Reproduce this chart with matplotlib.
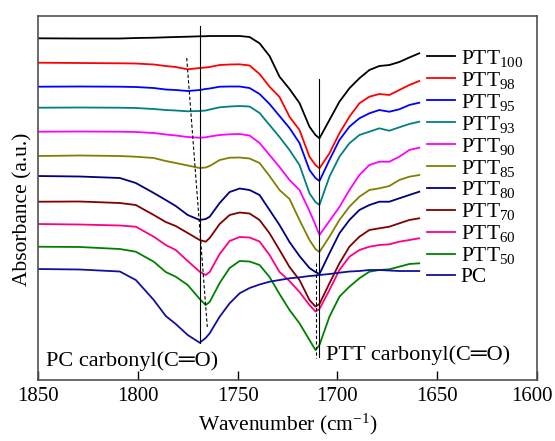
import matplotlib
matplotlib.use('Agg')
import matplotlib.pyplot as plt
import matplotlib.transforms as mtransforms

plt.rcParams['font.family'] = ['Liberation Serif', 'DejaVu Sans']
plt.rcParams['mathtext.fontset'] = 'custom'
plt.rcParams['mathtext.rm'] = 'Liberation Serif'
plt.rcParams['mathtext.it'] = 'Liberation Serif:italic'
plt.rcParams['mathtext.bf'] = 'Liberation Serif:bold'

# wavenumber grid (cm-1) and stacked absorbance spectra (a.u., offset)
wavenumber = [1850, 1829, 1809, 1801, 1792, 1786, 1781, 1775, 1769, 1766, 1764,
              1759, 1754, 1749, 1744, 1739, 1734, 1729, 1724, 1719, 1714, 1711,
              1709, 1704, 1699, 1694, 1689, 1684, 1679, 1674, 1669, 1664, 1659]

ptt100 = [3.417, 3.415, 3.415, 3.420, 3.423, 3.427, 3.430, 3.433, 3.437, 3.438, 3.440,
          3.440, 3.440, 3.440, 3.430, 3.367, 3.240, 3.033, 2.910, 2.770, 2.533, 2.450,
          2.417, 2.600, 2.783, 2.917, 3.017, 3.100, 3.140, 3.150, 3.180, 3.225, 3.267]
ptt98 = [3.173, 3.170, 3.167, 3.165, 3.155, 3.140, 3.130, 3.107, 3.120, 3.125, 3.130,
         3.150, 3.155, 3.157, 3.145, 3.060, 2.933, 2.830, 2.633, 2.500, 2.233, 2.150,
         2.117, 2.267, 2.467, 2.633, 2.767, 2.833, 2.860, 2.850, 2.900, 2.950, 2.990]
ptt95 = [2.933, 2.935, 2.933, 2.930, 2.920, 2.905, 2.900, 2.890, 2.900, 2.910, 2.915,
         2.933, 2.935, 2.935, 2.920, 2.860, 2.760, 2.640, 2.520, 2.370, 2.100, 2.020,
         1.990, 2.200, 2.400, 2.533, 2.617, 2.667, 2.700, 2.683, 2.707, 2.750, 2.773]
ptt93 = [2.723, 2.725, 2.723, 2.720, 2.710, 2.700, 2.695, 2.687, 2.690, 2.695, 2.705,
         2.727, 2.735, 2.740, 2.735, 2.670, 2.550, 2.430, 2.300, 2.150, 1.867, 1.780,
         1.750, 2.033, 2.233, 2.367, 2.450, 2.483, 2.517, 2.493, 2.527, 2.560, 2.583]
ptt90 = [2.483, 2.485, 2.483, 2.480, 2.470, 2.455, 2.445, 2.430, 2.423, 2.427, 2.435,
         2.450, 2.457, 2.460, 2.445, 2.370, 2.250, 2.130, 2.000, 1.900, 1.690, 1.550,
         1.450, 1.590, 1.730, 1.900, 2.050, 2.150, 2.183, 2.183, 2.233, 2.300, 2.323]
ptt85 = [2.240, 2.245, 2.240, 2.233, 2.220, 2.190, 2.170, 2.145, 2.120, 2.125, 2.140,
         2.200, 2.223, 2.225, 2.215, 2.170, 2.040, 1.900, 1.810, 1.600, 1.400, 1.310,
         1.280, 1.433, 1.600, 1.733, 1.833, 1.900, 1.917, 1.940, 2.000, 2.033, 2.050]
ptt80 = [2.040, 2.035, 2.020, 1.970, 1.870, 1.800, 1.740, 1.650, 1.600, 1.610, 1.633,
         1.770, 1.880, 1.915, 1.900, 1.850, 1.700, 1.550, 1.380, 1.240, 1.120, 1.080,
         1.060, 1.267, 1.467, 1.600, 1.700, 1.750, 1.783, 1.783, 1.817, 1.850, 1.883]
ptt70 = [1.783, 1.785, 1.770, 1.750, 1.650, 1.580, 1.540, 1.470, 1.400, 1.383, 1.420,
         1.560, 1.650, 1.675, 1.665, 1.600, 1.467, 1.300, 1.130, 1.000, 0.800, 0.735,
         0.760, 0.967, 1.167, 1.333, 1.433, 1.500, 1.517, 1.533, 1.567, 1.600, 1.617]
ptt60 = [1.560, 1.555, 1.545, 1.533, 1.433, 1.350, 1.300, 1.190, 1.083, 1.050, 1.080,
         1.260, 1.390, 1.430, 1.425, 1.385, 1.250, 1.080, 0.990, 0.880, 0.750, 0.685,
         0.710, 0.900, 1.100, 1.233, 1.300, 1.333, 1.350, 1.357, 1.383, 1.400, 1.417]
ptt50 = [1.333, 1.330, 1.310, 1.283, 1.183, 1.080, 1.033, 0.950, 0.810, 0.750, 0.780,
         0.970, 1.120, 1.190, 1.185, 1.150, 1.030, 0.860, 0.700, 0.567, 0.400, 0.300,
         0.350, 0.633, 0.833, 0.933, 1.017, 1.083, 1.100, 1.107, 1.133, 1.160, 1.167]
pc = [1.110, 1.105, 1.085, 1.000, 0.800, 0.640, 0.560, 0.450, 0.373, 0.420, 0.467,
      0.633, 0.767, 0.867, 0.920, 0.955, 0.983, 1.000, 1.017, 1.027, 1.040, 1.045,
      1.050, 1.060, 1.073, 1.085, 1.090, 1.100, 1.100, 1.095, 1.090, 1.090, 1.090]

spectra = [ptt100, ptt98, ptt95, ptt93, ptt90, ptt85, ptt80, ptt70, ptt60, ptt50, pc]
labels = ['PTT$_{100}$', 'PTT$_{98}$', 'PTT$_{95}$', 'PTT$_{93}$', 'PTT$_{90}$',
          'PTT$_{85}$', 'PTT$_{80}$', 'PTT$_{70}$', 'PTT$_{60}$', 'PTT$_{50}$', 'PC']
colors = ['#000000', '#ff0000', '#0000ff', '#008080', '#ff00ff', '#808000',
          '#000080', '#800000', '#ff0080', '#008000', '#1010a0']

# guide lines for carbonyl peaks
pc_peak = 1769
pc_peak_span = [0.37, 3.54]
pc_shift_x = [1775.5, 1765.2]
pc_shift_y = [3.22, 0.53]
ptt_peak = 1709
ptt_peak_span = [0.23, 3.01]
ptt_shift_x = [1710.8, 1710.8]
ptt_shift_y = [1.17, 0.22]

fig = plt.figure(figsize=(5.55, 4.41), dpi=100)
ax = fig.add_axes([0.0685, 0.1383, 0.8991, 0.8254])

for s, lab, c in zip(spectra, labels, colors):
    ax.plot(wavenumber, s, color=c, linewidth=1.3, label=lab)

ax.plot([pc_peak, pc_peak], pc_peak_span, color='black', linewidth=0.8)
ax.plot(pc_shift_x, pc_shift_y, color='black', linewidth=0.8, linestyle=(0, (3, 2)))
ax.plot([ptt_peak, ptt_peak], ptt_peak_span, color='black', linewidth=0.8)
ax.plot(ptt_shift_x, ptt_shift_y, color='black', linewidth=0.8, linestyle=(0, (3, 2)))

ax.text(1846, 0.14, 'PC carbonyl(C\u2550O)', fontsize=16, va='baseline', ha='left')
ax.text(1705.7, 0.20, 'PTT carbonyl(C\u2550O)', fontsize=16, va='baseline', ha='left')

ax.set_xlim(1850, 1600)
ax.set_ylim(0, 3.64)
ax.set_xticks([1850, 1800, 1750, 1700, 1650, 1600])
ax.set_yticks([])
ax.tick_params(axis='x', direction='in', length=6.5, width=1, labelsize=15, pad=5)
for sp in ax.spines.values():
    sp.set_color('#505050')
    sp.set_linewidth(1.2)

# last tick label sits slightly left so it stays inside the picture
last = ax.get_xticklabels()[-1]
last.set_transform(last.get_transform() + mtransforms.ScaledTranslation(-4 / 72, 0, fig.dpi_scale_trans))

ax.set_xlabel('Wavenumber (cm$^{-1}$)', fontsize=15.5)
ax.set_ylabel('Absorbance (a.u.)', fontsize=15.5)
ax.yaxis.set_label_coords(-0.012, 0.47)

ax.legend(loc='upper left', bbox_to_anchor=(0.78, 0.913), frameon=False,
          fontsize=15.5, handlelength=1.3, handletextpad=0.25, borderpad=0,
          borderaxespad=0, labelspacing=0.045)

plt.savefig('out.png', dpi=100)
